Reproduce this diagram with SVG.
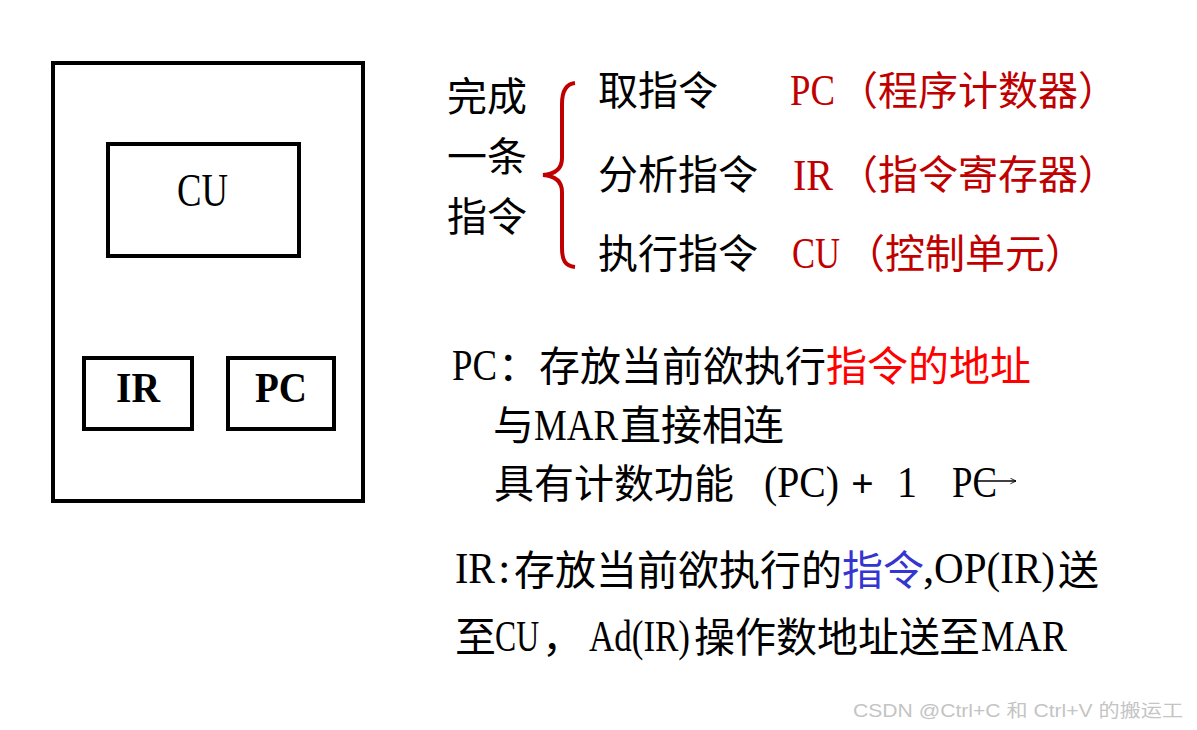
<svg xmlns="http://www.w3.org/2000/svg" width="1197" height="730" viewBox="0 0 1197 730">
<style>
.box{fill:none;stroke:#000;stroke-width:4}
.cjk{font-family:'Noto Sans CJK SC',sans-serif;font-size:40px;fill:#000}
.cjk41{font-family:'Noto Sans CJK SC',sans-serif;font-size:41px;fill:#000}
.lat{font-family:'Liberation Serif','Noto Sans CJK SC',serif;font-size:45px;fill:#000}
.bold{font-family:'Liberation Serif',serif;font-size:43px;font-weight:bold;fill:#000}
.dred{fill:#c00000}
.red{fill:#ff0000}
.blue{fill:#3535d0}
.wm{font-family:'Liberation Sans','Noto Sans CJK SC',sans-serif;font-size:18px;fill:#c4c4c4}
</style>
<defs>
<marker id="arr" viewBox="0 0 10 10" refX="9" refY="5" markerWidth="7" markerHeight="7" orient="auto" markerUnits="userSpaceOnUse">
<path d="M1,1 L9,5 L1,9" fill="none" stroke="#000" stroke-width="1.2"/>
</marker>
</defs>
<rect width="1197" height="730" fill="#fff"/>
<g id="cpu">
<rect class="box" x="53" y="63" width="310" height="438"/>
</g>
<g id="cu-node">
<rect class="box" x="108" y="144" width="191" height="112"/>
<text class="lat" x="177" y="206" style="font-size:46px" textLength="51" lengthAdjust="spacingAndGlyphs">CU</text>
</g>
<g id="ir-node">
<rect class="box" x="84" y="358" width="108" height="71"/>
<text class="bold" x="116" y="402" textLength="44" lengthAdjust="spacingAndGlyphs">IR</text>
</g>
<g id="pc-node">
<rect class="box" x="228" y="358" width="106" height="71"/>
<text class="bold" x="255" y="402" textLength="52" lengthAdjust="spacingAndGlyphs">PC</text>
</g>
<g id="task-label">
<text class="cjk" x="447" y="111">完成</text>
<text class="cjk" x="447" y="171">一条</text>
<text class="cjk" x="447" y="231">指令</text>
</g>
<g id="connectors">
<path d="M575,83 C565,84 562,92 562,104 L562,158 C562,168 556,174 543,175 C556,176 562,182 562,192 L562,248 C562,260 565,266 575,267" fill="none" stroke="#c00000" stroke-width="4"/>
<line x1="977" y1="481" x2="1016" y2="481" stroke="#000" stroke-width="1.3" marker-end="url(#arr)"/>
</g>
<g id="step-fetch">
<text class="cjk" x="598" y="105">取指令</text>
<text class="lat dred" x="790" y="105" textLength="45" lengthAdjust="spacingAndGlyphs">PC</text>
<text class="cjk dred" x="838" y="105">（程序计数器）</text>
</g>
<g id="step-decode">
<text class="cjk" x="598" y="189">分析指令</text>
<text class="lat dred" x="793" y="190" textLength="40" lengthAdjust="spacingAndGlyphs">IR</text>
<text class="cjk dred" x="838" y="189">（指令寄存器）</text>
</g>
<g id="step-exec">
<text class="cjk" x="598" y="268">执行指令</text>
<text class="lat dred" x="792" y="268" textLength="48" lengthAdjust="spacingAndGlyphs">CU</text>
<text class="cjk dred" x="845" y="268">（控制单元）</text>
</g>
<g id="pc-desc">
<text class="lat" x="452" y="380" textLength="45" lengthAdjust="spacingAndGlyphs">PC</text>
<text class="cjk41" x="498" y="381">：存放当前欲执行</text>
<text class="cjk41 red" x="826" y="381">指令的地址</text>
<text class="cjk41" x="493" y="440">与</text>
<text class="lat" x="534" y="440" textLength="84" lengthAdjust="spacingAndGlyphs">MAR</text>
<text class="cjk41" x="620" y="440">直接相连</text>
<text class="cjk" x="494" y="498">具有计数功能</text>
<text class="lat" x="764" y="497" textLength="75" lengthAdjust="spacingAndGlyphs">(PC)</text>
<text class="bold" x="851" y="497" style="font-size:40px">+</text>
<text class="lat" x="897" y="497" textLength="20" lengthAdjust="spacingAndGlyphs">1</text>
<text class="lat" x="952" y="497" textLength="45" lengthAdjust="spacingAndGlyphs">PC</text>
</g>
<g id="ir-desc">
<text class="lat" x="455" y="583" textLength="40" lengthAdjust="spacingAndGlyphs">IR</text>
<text class="lat" x="498" y="583">:</text>
<text class="cjk41" x="514" y="585">存放当前欲执行的</text>
<text class="cjk41 blue" x="842" y="585">指令</text>
<text class="lat" x="923" y="583">,</text>
<text class="lat" x="934" y="583" textLength="121" lengthAdjust="spacingAndGlyphs">OP(IR)</text>
<text class="cjk41" x="1058" y="585">送</text>
<text class="cjk41" x="455" y="652">至</text>
<text class="lat" x="495" y="651" textLength="44" lengthAdjust="spacingAndGlyphs">CU</text>
<text class="cjk41" x="542" y="652">，</text>
<text class="lat" x="589" y="651" textLength="101" lengthAdjust="spacingAndGlyphs">Ad(IR)</text>
<text class="cjk41" x="694" y="652">操作数地址送</text>
<text class="cjk41" x="939" y="652">至</text>
<text class="lat" x="981" y="651" textLength="86" lengthAdjust="spacingAndGlyphs">MAR</text>
</g>
<g id="watermark">
<text class="wm" x="853" y="717" textLength="330" lengthAdjust="spacingAndGlyphs">CSDN @Ctrl+C 和 Ctrl+V 的搬运工</text>
</g>
</svg>
